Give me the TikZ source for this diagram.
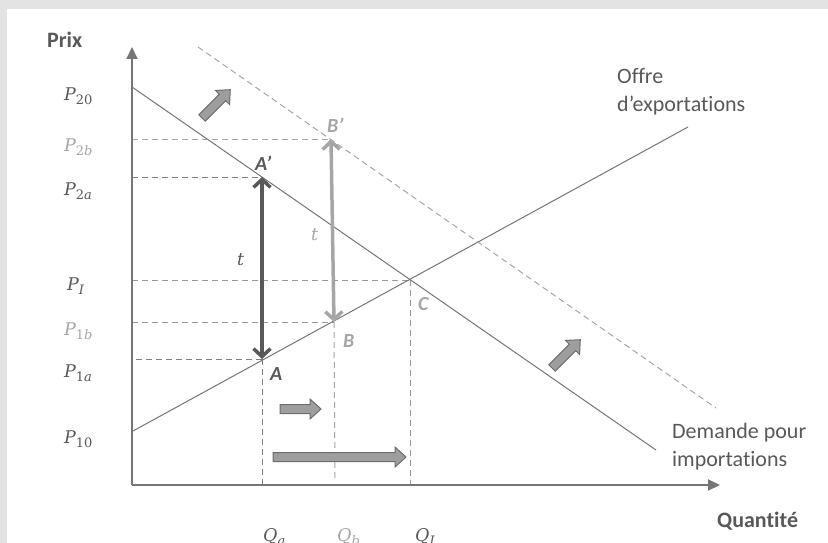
\documentclass[tikz,border=0pt]{standalone}
\usepackage{fontspec}
\setmainfont{Carlito}[Ligatures=NoCommon]
\newfontfamily\serifl{DejaVu Serif}
\newcommand\lblsub[2]{{\itshape #1}\raisebox{-4.5pt}{\fontsize{13}{13}\selectfont #2}}
\usetikzlibrary{arrows.meta}
\definecolor{dk}{HTML}{595959}
\definecolor{lt}{HTML}{A6A6A6}
\definecolor{ln}{HTML}{767676}
\definecolor{bg}{HTML}{E3E3E3}
\definecolor{gmid}{HTML}{999999}
\definecolor{gdk}{HTML}{808080}
\definecolor{blkfill}{HTML}{9E9E9E}
\definecolor{blkdraw}{HTML}{6E6E6E}
\newcommand\myblockarrow[3]{%
  \begin{scope}[shift={(#1)},rotate=#2]
    \draw[blk] (0,-4.5) -- (#3-11,-4.5) -- (#3-11,-10) -- (#3,0) -- (#3-11,10) -- (#3-11,4.5) -- (0,4.5) -- cycle;
  \end{scope}}
\begin{document}
\begin{tikzpicture}[x=1pt,y=-1pt,
  lbl/.style={inner sep=0, anchor=base west, font=\fontsize{22}{28}\selectfont, text=dk},
  axlbl/.style={lbl, font=\fontsize{22}{28}\selectfont\bfseries},
  plbl/.style={inner sep=0, anchor=base west, font=\serifl\fontsize{17.5}{21}\selectfont, text=dk},
  ptlbl/.style={inner sep=0, anchor=base west, font=\fontsize{20}{24}\selectfont\bfseries\itshape, text=dk},
  curve/.style={draw=ln, line width=1pt},
  guide/.style={dash pattern=on 6pt off 4pt, line width=1pt},
  axis/.style={draw=ln, line width=2pt, -{Triangle[length=12pt,width=11pt]}},
  tarrow/.style={line width=3.5pt, {Straight Barb[length=8pt,width=17pt]}-{Straight Barb[length=8pt,width=17pt]}},
  blk/.style={fill=blkfill, draw=blkdraw, line width=1pt, line join=miter}
]
\useasboundingbox (0,0) rectangle (828,543);
\fill[bg] (0,0) rectangle (828,543);
\fill[white] (7,9) rectangle (828,543);

% key points
\coordinate (O) at (132,485);
\coordinate (Ytop) at (132,47);
\coordinate (Xend) at (720,485);
\coordinate (D0) at (132,87);
\coordinate (D1) at (656,450);
\coordinate (S0) at (133,431);
\coordinate (S1) at (688,127);
\coordinate (Dp0) at (198,47);
\coordinate (Dp1) at (716,408);
\coordinate (C) at (410,280);
\coordinate (Ap) at (262,177);
\coordinate (A) at (262,359);
\coordinate (Bp) at (331,139);
\coordinate (B) at (334,322);
\coordinate (Bfoot) at (335,478);

% guides
\draw[guide, draw=lt] (O |- Bp) -- (Bp);
\draw[guide, draw=gdk] (O |- Ap) -- (Ap);
\draw[guide, draw=gmid] (O |- C) -- (C);
\draw[guide, draw=gmid] (O |- B) -- (B);
\draw[guide, draw=gdk] ([xshift=4pt]O |- A) -- (A);
\draw[guide, draw=gdk] (A) -- (A |- O);
\draw[guide, draw=lt] (B) -- (Bfoot);
\draw[guide, draw=gmid] (C) -- (C |- O);

% curves
\draw[curve] (D0) -- (D1);
\draw[curve] (S0) -- (S1);
\draw[guide, draw=lt] (Dp0) -- (Dp1);

% axes
\draw[axis] (O) -- (Ytop);
\draw[axis] (O) -- (Xend);

% t arrows
\draw[tarrow, draw=dk] (Ap) -- (A);
\draw[tarrow, draw=lt] (Bp) -- (B);

% block arrows
\myblockarrow{202,118}{45}{40}
\myblockarrow{552,368}{45}{40}
\myblockarrow{280,409}{0}{41}
\myblockarrow{273,457}{0}{133}

% axis labels
\node[axlbl] (prix) at (47,48) {Prix};
\node[axlbl] (qte) at (717,527) {Quantité};
\node[lbl] (off1) at (617,84) {Offre};
\node[lbl] (off2) at (617,112) {d’exportations};
\node[lbl] (dem1) at (672,438) {Demande pour};
\node[lbl] (dem2) at (672,466) {importations};

% price labels
\node[plbl] (p20) at (64,100) {\lblsub{P}{20}};
\node[plbl, text=lt] (p2b) at (64,151) {\lblsub{P}{2\textit{b}}};
\node[plbl] (p2a) at (64,195) {\lblsub{P}{2\textit{a}}};
\node[plbl] (pI) at (67,290) {\lblsub{P}{\textit{I}}};
\node[plbl, text=lt] (p1b) at (64,335) {\lblsub{P}{1\textit{b}}};
\node[plbl] (p1a) at (64,377) {\lblsub{P}{1\textit{a}}};
\node[plbl] (p10) at (64,443) {\lblsub{P}{10}};

% quantity labels
\node[plbl] (qa) at (263,541) {\lblsub{Q}{\textit{a}}};
\node[plbl, text=lt] (qb) at (337,541) {\lblsub{Q}{\textit{b}}};
\node[plbl] (qI) at (415,541) {\lblsub{Q}{\textit{I}}};

% point labels
\node[ptlbl] (lAp) at (255,170) {A’};
\node[ptlbl] (lA) at (270,380) {A};
\node[ptlbl, text=lt] (lBp) at (327,132) {B’};
\node[ptlbl, text=lt] (lB) at (343,347) {B};
\node[ptlbl, text=lt] (lC) at (418,310) {C};
\node[plbl] (t1) at (237,265) {\textit{t}};
\node[plbl, text=lt] (t2) at (311,240) {\textit{t}};
\end{tikzpicture}
\end{document}
